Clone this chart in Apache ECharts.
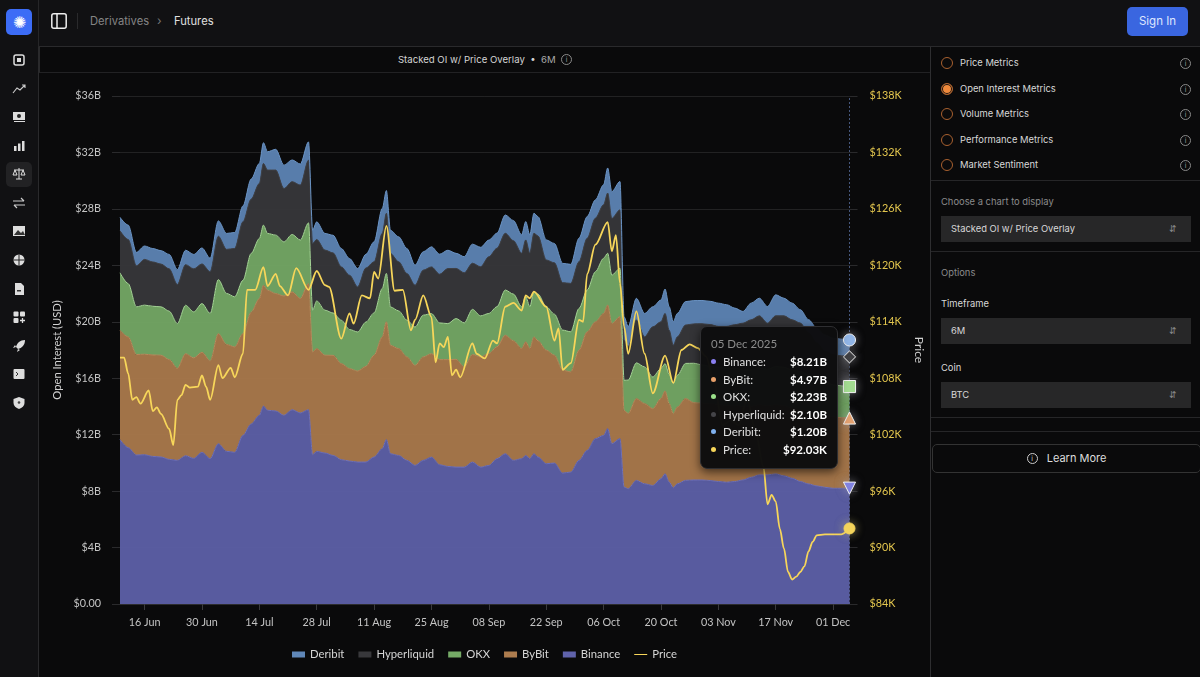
<!DOCTYPE html>
<html>
<head>
<meta charset="utf-8">
<title>Futures</title>
<script src="https://cdn.jsdelivr.net/npm/echarts@6/dist/echarts.min.js"></script>
<style>
  html, body { margin: 0; padding: 0; background: #0a0a0b; }
  body { width: 1200px; height: 677px; overflow: hidden; position: relative; font-family: Inter, sans-serif; color: #ddd; }
  .abs { position: absolute; white-space: nowrap; }
  #side { left: 0; top: 0; width: 38px; height: 677px; background: #111113; border-right: 1px solid #262628; }
  #top { left: 39px; top: 0; width: 1161px; height: 46px; background: #111113; border-bottom: 1px solid #2a2a2c; }
  #chartHead { left: 39px; top: 47px; width: 891px; height: 26px; border-bottom: 1px solid #222224; border-left: 1px solid #2a2a2c; box-sizing: border-box;
    text-align: center; font-size: 9.6px; line-height: 26px; color: #d5d5d5; }
  #main { left: 39px; top: 74px; width: 891px; height: 603px; }
  #leftEdge { left: 38px; top: 47px; width: 1px; height: 630px; background: #2a2a2c; }
  #panelEdge { left: 930px; top: 47px; width: 1px; height: 630px; background: #2e2e30; }
  .radio { width: 10px; height: 10px; border: 1.4px solid #a8602f; border-radius: 50%; left: 941px; }
  .radio.on { background: #f08a3c; box-shadow: inset 0 0 0 1px #111; }
  .lbl { font-size: 9.4px; color: #d8d8d8; left: 960px; }
  .gray { font-size: 9.4px; color: #8b8b8b; left: 941px; }
  .sel { left: 941px; width: 250px; height: 26px; background: #272728; font-size: 9.4px; line-height: 25px; color: #d8d8d8; text-indent: 10px; }
  .sel span { position: absolute; right: 14px; top: 0; color: #888; font-size: 9px; text-indent: 0; }
  .rule { left: 931px; width: 269px; height: 1px; background: #262628; }
  .info { width: 9px; height: 9px; border: 1px solid #8a8a8a; border-radius: 50%; font-size: 7px; line-height: 9px; text-align: center; color: #9a9a9a; }
</style>
</head>
<body>
<div class="abs" id="side"></div>
<div class="abs" style="left:6px;top:9px;width:26px;height:26px;border-radius:5px;background:#3c6cf6;color:#fff;font-size:16px;line-height:27px;text-align:center;">&#10042;</div>
<div class="abs" style="left:6px;top:162px;width:26px;height:25px;border-radius:5px;background:#222224;"></div>
<div id="sideIcons"></div>

<div class="abs" id="top"></div>
<svg class="abs" style="left:51px;top:13px" width="16" height="16"><rect x="0.8" y="0.8" width="14.4" height="14.4" rx="2" fill="none" stroke="#eee" stroke-width="1.5"/><line x1="6" y1="1" x2="6" y2="15" stroke="#eee" stroke-width="1.5"/></svg>
<div class="abs" style="left:77px;top:13px;width:1px;height:16px;background:#2a2a2c"></div>
<div class="abs" style="left:90px;top:14px;font-size:11.2px;color:#858585">Derivatives</div>
<div class="abs" style="left:157px;top:13px;font-size:12px;color:#777">&#8250;</div>
<div class="abs" style="left:174px;top:14px;font-size:11.2px;color:#e0e0e0">Futures</div>
<div class="abs" style="left:1127px;top:7px;width:61px;height:29px;border-radius:5px;background:#3a66e0;color:#dfe7ff;font-size:11.5px;line-height:28px;text-align:center">Sign In</div>

<div class="abs" id="leftEdge"></div>
<div class="abs" id="chartHead">Stacked OI w/ Price Overlay &nbsp;&bull;&nbsp; <span style="color:#aaa">6M</span> &nbsp;<span class="info" style="display:inline-block;vertical-align:1px">i</span></div>
<div class="abs" id="main"></div>
<div class="abs" id="panelEdge"></div>

<div id="metrics"></div>
<div class="abs rule" style="top:180px"></div>
<div class="abs gray" style="top:196px">Choose a chart to display</div>
<div class="abs sel" style="top:216px">Stacked OI w/ Price Overlay<span>&#8693;</span></div>
<div class="abs rule" style="top:251px"></div>
<div class="abs gray" style="top:267px">Options</div>
<div class="abs lbl" style="left:941px;top:298px">Timeframe</div>
<div class="abs sel" style="top:318px">6M<span>&#8693;</span></div>
<div class="abs lbl" style="left:941px;top:362px">Coin</div>
<div class="abs sel" style="top:382px">BTC<span>&#8693;</span></div>
<div class="abs rule" style="top:417px"></div>
<div class="abs rule" style="top:431px"></div>
<div class="abs" style="left:932px;top:444px;width:267px;height:27px;border:1px solid #333;border-radius:5px;font-size:11px;line-height:27px;text-align:center;color:#ddd"><span class="info" style="display:inline-block;vertical-align:1px;margin-right:6px;border-color:#ccc;color:#ccc">i</span> Learn More</div>

<script>
// days since 10 Jun 2025 for the open interest series (mostly every 2 days, extra points at the sharp moves)
var oiDays = [0,2,4,6,8,10,12,14,16,18,20,22,24,26,28,30,32,34,35,36,38,40,42,44,46,47,48,50,52,54,56,58,60,62,64,65,66,
  68,70,72,74,76,78,80,82,84,86,88,90,92,94,96,98,99,100,101,102,104,106,108,110,112,114,116,118,119,120,122,123,124,
  126,128,130,132,133,134,135,136,138,
  140,142,144,146,148,150,152,154,156,158,160,162,164,166,168,170,172,174,176,178];

var binance = [11.65,11.08,10.56,10.58,10.46,10.42,10.25,10.18,10.51,10.32,10.75,10.30,11.36,10.82,10.75,11.95,12.76,13.37,14.03,13.73,13.68,13.37,13.77,13.54,13.77,10.58,10.82,10.70,10.53,10.23,10.13,10.06,10.06,10.42,11.01,11.65,10.65,
  10.53,10.18,9.82,10.18,10.41,9.87,9.75,9.70,9.70,10.06,9.70,9.82,10.30,10.65,10.18,10.30,10.53,10.30,10.65,10.41,9.94,9.99,9.28,9.35,10.18,10.89,11.72,11.95,12.43,11.36,11.72,8.28,8.17,
  8.76,8.52,8.40,8.88,9.23,8.64,8.24,8.52,8.76,
  8.79,8.79,8.75,8.68,8.63,8.68,8.79,8.98,9.15,9.15,9.22,9.08,8.91,8.68,8.51,8.37,8.27,8.20,8.20,8.21];
var bybit = [7.75,7.85,7.12,7.12,7.19,7.21,7.07,6.52,7.23,7.12,7.09,6.93,7.80,7.57,7.47,7.21,7.92,8.27,8.56,8.51,8.32,8.46,8.35,8.11,8.94,7.28,7.28,6.93,7.09,6.81,6.55,6.45,6.78,7.21,7.92,8.35,7.68,
  7.57,7.33,7.09,7.33,7.33,7.45,7.57,7.64,7.10,7.62,7.81,7.93,7.93,8.40,8.47,7.81,8.05,7.81,8.28,8.24,8.05,7.64,7.29,7.10,7.81,8.40,8.28,8.64,8.76,8.52,8.64,5.44,5.33,
  5.80,5.68,5.44,5.68,5.87,5.56,5.25,5.44,5.80,
  5.48,5.44,5.44,5.44,5.41,5.37,5.20,5.01,4.96,4.89,4.89,4.96,4.96,5.08,5.13,5.11,5.06,5.04,5.01,4.97];
var okx = [4.07,3.78,3.38,3.48,3.45,3.43,3.43,3.17,3.43,3.26,3.45,3.36,3.83,3.62,3.55,3.78,4.16,4.26,4.26,4.02,4.14,3.83,4.07,4.14,4.30,2.96,3.38,3.19,3.00,3.07,2.77,2.77,3.14,3.00,3.43,3.43,2.72,
  2.67,2.60,2.72,2.96,2.84,2.60,2.55,2.89,3.12,3.20,2.91,2.84,2.84,3.20,3.31,2.96,3.20,2.96,3.20,3.31,3.08,2.91,2.84,2.84,2.96,2.96,3.55,3.91,3.67,3.43,3.43,2.13,2.37,
  2.53,2.60,2.25,2.13,1.94,2.08,2.13,2.25,2.49,
  2.79,2.72,2.65,2.67,2.67,2.67,2.60,2.60,2.60,2.60,2.72,2.74,2.72,2.72,2.60,2.53,2.43,2.29,2.25,2.23];
var hyperliquid = [2.98,3.12,2.91,3.24,3.14,3.03,3.00,2.77,2.88,3.05,2.81,2.96,3.07,3.12,3.43,4.14,3.85,3.90,4.37,4.49,4.61,3.78,3.74,3.90,4.44,4.73,4.35,4.26,4.26,3.78,3.85,3.19,3.83,3.62,3.90,4.26,3.78,
  3.48,3.31,2.96,3.19,3.31,3.45,3.90,3.55,3.55,3.27,3.48,4.02,4.14,4.02,3.79,3.79,4.02,3.79,4.14,4.12,3.31,3.64,3.36,3.43,3.31,3.67,3.79,3.79,4.26,4.02,4.14,2.84,2.37,
  3.03,2.13,3.55,3.31,3.55,3.12,2.72,2.72,2.72,
  2.79,2.91,2.96,2.88,2.96,3.07,3.31,3.55,3.71,3.26,3.59,3.64,3.55,3.43,2.96,2.48,2.13,2.13,2.13,2.10];
var deribit = [0.95,1.02,0.95,0.95,0.95,0.95,1.02,1.06,1.02,1.02,1.13,0.95,1.09,1.13,1.13,1.13,1.42,1.42,1.47,1.30,1.47,1.65,1.54,1.49,1.30,0.95,1.25,1.18,1.25,1.30,1.18,1.30,0.97,1.42,1.77,1.61,1.65,
  1.77,1.77,1.42,1.30,1.42,1.42,1.30,1.07,1.14,1.35,1.38,1.18,1.07,1.30,1.42,1.30,1.30,1.30,1.42,1.37,1.42,1.37,1.37,1.35,1.66,1.54,1.30,1.42,1.78,1.89,2.01,1.66,1.42,
  1.54,1.66,1.42,1.54,1.73,1.66,1.66,1.66,1.66,
  1.65,1.65,1.65,1.65,1.54,1.18,0.83,1.18,1.25,1.18,1.49,1.25,1.18,0.95,0.95,1.06,1.18,1.18,1.18,1.20];

// price is read at its turning points, so it keeps its own day list (in $K)
var priceDays = [0,1,2,3,4,5,7,8,9,10,12,13,14,15,16,17,19,20,21,22,24,25,27,28,30,31,33,35,36,38,39,41,43,46,48,50,51,54,56,57,59,61,62,63,65,67,
  69,71,72,74,76,77,78,79,80,81,82,83,86,87,89,91,92,94,96,98,99,100,101,104,106,107,108,110,112,113,114,116,119,120,121,122,123,124,126,128,130,133,135,
  137,139,141,143,145,147,149,151,153,155,157,158,159,160,161,162,163,164,165,166,167,168,169,170,172,176,178];
var price = [110.2,110.2,108.5,105.7,106.0,105.3,106.7,104.5,104.9,104.2,102.6,100.9,105.7,106.2,107.3,107.0,107.1,108.3,107.1,105.7,109.4,108.0,109.1,108.1,110.6,117.4,117.4,119.8,117.8,119.1,117.8,116.8,119.7,117.4,119.4,117.9,117.7,112.2,114.9,113.8,116.8,116.5,119.3,118.6,124.2,117.3,
  117.4,113.1,114.2,116.8,114.5,109.7,111.7,111.3,112.4,108.3,108.9,108.1,111.7,110.6,110.1,112.0,111.7,115.6,116.0,115.2,116.8,116.5,117.2,115.6,112.0,113.3,108.9,109.6,114.2,114.0,119.1,122.2,124.6,121.5,123.2,118.1,113.5,110.6,115.1,110.6,106.4,110.4,107.5,
  111.0,111.6,111.2,110.3,107.5,103.0,103.5,103.0,105.8,102.5,98.6,94.6,95.6,94.9,92.0,89.9,87.4,86.6,86.9,87.4,88.0,89.6,90.6,91.3,91.4,91.4,92.03];

var tickDays = [6,20,34,48,62,76,90,104,118,132,146,160,174];
var tickLabels = ["16 Jun","30 Jun","14 Jul","28 Jul","11 Aug","25 Aug","08 Sep","22 Sep","06 Oct","20 Oct","03 Nov","17 Nov","01 Dec"];
var lastDay = 178;

var metricNames = ["Price Metrics","Open Interest Metrics","Volume Metrics","Performance Metrics","Market Sentiment"];
var metricTops = [57,83,108,134,159];

function dayTime(d) { return Date.UTC(2025, 5, 10) + d * 86400000; }
function pairs(days, vals) { return days.map(function (d, i) { return [dayTime(d), vals[i]]; }); }

// right panel radios
var html = "";
metricNames.forEach(function (name, i) {
  html += '<div class="abs radio' + (i === 1 ? ' on' : '') + '" style="top:' + metricTops[i] + 'px"></div>' +
    '<div class="abs lbl" style="top:' + (metricTops[i] - 0.5) + 'px">' + name + '</div>' +
    '<div class="abs info" style="left:1180px;top:' + (metricTops[i] + 0.5) + 'px">i</div>';
});
document.getElementById("metrics").innerHTML = html;

// sidebar icons, just rough glyph shapes
var sideTops = [60,89,117,146,174,203,231,260,289,317,346,374,403];
var sideShapes = [
  '<rect x="2" y="2" width="10" height="10" rx="2" fill="none" stroke="#ddd" stroke-width="1.5"/><rect x="5" y="5" width="4" height="4" fill="#ddd"/>',
  '<path d="M1 11 L5 6 L8 8 L13 3 M10 3 H13 V6" fill="none" stroke="#ccc" stroke-width="1.1"/>',
  '<rect x="1" y="2" width="12" height="8" fill="#ddd"/><circle cx="7" cy="6" r="2" fill="#222"/><rect x="2" y="11" width="11" height="1" fill="#ddd"/>',
  '<rect x="2" y="7" width="2.5" height="5" fill="#ddd"/><rect x="6" y="4.5" width="2.5" height="7.5" fill="#ddd"/><rect x="10" y="2" width="2.5" height="10" fill="#ddd"/>',
  '<path d="M7 1 V12 M2 3 H12 M4 12 H10 M3 3 L1 8 H5 Z M11 3 L9 8 H13 Z" fill="none" stroke="#ddd" stroke-width="1"/>',
  '<path d="M1 5 H12 M9 2 L12 5 M13 9 H2 M5 12 L2 9" fill="none" stroke="#ccc" stroke-width="1.2"/>',
  '<rect x="1" y="2" width="12" height="10" fill="#ddd"/><path d="M2 11 L6 6 L9 9 L11 7 L13 11 Z" fill="#333"/>',
  '<circle cx="7" cy="7" r="5.5" fill="#ddd"/><path d="M1.5 7 H12.5 M7 1.5 V12.5" stroke="#222" stroke-width="1"/>',
  '<path d="M3 1 H9 L12 4 V13 H3 Z" fill="#ddd"/><rect x="5" y="8" width="4" height="1.5" fill="#333"/>',
  '<rect x="1.5" y="1.5" width="5" height="5" rx="1" fill="#ddd"/><rect x="8" y="1.5" width="5" height="5" rx="1" fill="#ddd"/><rect x="1.5" y="8" width="5" height="5" rx="1" fill="#ddd"/><path d="M10.5 8 V13 M8 10.5 H13" stroke="#ddd" stroke-width="1.3"/>',
  '<path d="M13 1 C8 1 5 4 4 8 L6 10 C10 9 13 6 13 1 Z M4 8 L1 9 L3 6 Z M6 10 L5 13 L8 11 Z" fill="#ddd"/>',
  '<rect x="1.5" y="2" width="11" height="10" rx="1" fill="#ddd"/><path d="M4 5 L6 7 L4 9" fill="none" stroke="#333"/>',
  '<path d="M7 1 L12.5 3 V7 C12.5 10 10 12 7 13 C4 12 1.5 10 1.5 7 V3 Z" fill="#ddd"/><circle cx="7" cy="6.5" r="1.3" fill="#444"/>'
];
document.getElementById("sideIcons").innerHTML = sideShapes.map(function (s, i) {
  return '<svg class="abs" style="left:12px;top:' + (sideTops[i] - 7) + 'px" width="14" height="14">' + s + '</svg>';
}).join("");

var chartFont = "Lato, sans-serif";
var myChart = echarts.init(document.getElementById("main"));

function areaSeries(name, vals, fill, edge, marker, symbol, rotate, size) {
  return {
    name: name,
    type: "line",
    stack: "oi",
    smooth: 0.3,
    smoothMonotone: "x",
    data: pairs(oiDays, vals),
    showAllSymbol: true,
    symbol: function (v, p) { return p.dataIndex === oiDays.length - 1 ? symbol : "none"; },
    symbolSize: size,
    symbolRotate: rotate,
    itemStyle: { color: marker, borderColor: "#f2f2f2", borderWidth: 1, shadowColor: "rgba(170,170,180,0.6)", shadowBlur: 10 },
    lineStyle: { color: edge, width: 1 },
    areaStyle: { color: fill, opacity: 0.93 },
    emphasis: { disabled: true },
    z: 2
  };
}

var option = {
  animation: false,
  backgroundColor: "transparent",
  textStyle: { fontFamily: chartFont },
  grid: { left: 81, right: 80.5, top: 22, bottom: 73, outerBoundsMode: "none" },
  legend: {
    bottom: 12,
    left: "center",
    itemWidth: 13,
    itemHeight: 6,
    itemGap: 14,
    itemStyle: { borderWidth: 0, shadowBlur: 0 },
    textStyle: { color: "#d5d5d5", fontSize: 11.3, fontFamily: chartFont },
    data: [
      { name: "Deribit", icon: "rect", itemStyle: { color: "#5f87b8" } },
      { name: "Hyperliquid", icon: "rect", itemStyle: { color: "#38383b" } },
      { name: "OKX", icon: "rect", itemStyle: { color: "#76ab67" } },
      { name: "ByBit", icon: "rect", itemStyle: { color: "#ad7c4e" } },
      { name: "Binance", icon: "rect", itemStyle: { color: "#5f62ab" } },
      { name: "Price", icon: "path://M0 0L0 0M0 2.2H20V3.8H0ZM20 6L20 6", itemStyle: { color: "#f7d65a" } }
    ]
  },
  tooltip: {
    trigger: "axis",
    alwaysShowContent: true,
    position: [661, 252],
    padding: [10, 10],
    backgroundColor: "rgba(13,13,14,0.98)",
    borderColor: "#2e2e31",
    borderWidth: 1,
    extraCssText: "border-radius:7px;box-shadow:0 3px 10px rgba(0,0,0,.6);width:116px;",
    axisPointer: { type: "line", z: 1, lineStyle: { color: "#46577c", type: [2, 2], width: 1 }, label: { show: false } },
    formatter: function () {
      var n = oiDays.length - 1;
      var rows = [
        ["#8a7ff0", "Binance", "$" + binance[n].toFixed(2) + "B"],
        ["#e8a06a", "ByBit", "$" + bybit[n].toFixed(2) + "B"],
        ["#9be08a", "OKX", "$" + okx[n].toFixed(2) + "B"],
        ["#444448", "Hyperliquid", "$" + hyperliquid[n].toFixed(2) + "B"],
        ["#7fb0ee", "Deribit", "$" + deribit[n].toFixed(2) + "B"],
        ["#f7d65a", "Price", "$" + price[price.length - 1].toFixed(2) + "K"]
      ];
      var s = '<div style="font:11.5px ' + chartFont + ';color:#8c8c8c;margin-bottom:3px">05 Dec 2025</div>';
      rows.forEach(function (r) {
        s += '<div style="display:flex;align-items:center;height:17.5px;font:11.5px ' + chartFont + ';color:#e0e0e0">' +
          '<span style="width:5px;height:5px;border-radius:50%;background:' + r[0] + ';margin-right:7px"></span>' +
          '<span style="flex:1">' + r[1] + ':</span><b style="color:#fff;font-weight:700">' + r[2] + '</b></div>';
      });
      return s;
    }
  },
  // the series sit on a time axis so the stack works; the date ticks come from a second axis counted in days
  xAxis: [
    {
      type: "time",
      min: dayTime(0),
      max: dayTime(lastDay),
      axisLine: { lineStyle: { color: "#2c2c2e" } },
      axisTick: { show: false },
      axisLabel: { show: false },
      splitLine: { show: false }
    },
    {
      type: "value",
      position: "bottom",
      min: 0,
      max: lastDay,
      axisPointer: { show: false, triggerTooltip: false },
      axisLine: { show: false },
      axisTick: { show: true, length: 6, lineStyle: { color: "#3a3a3c" }, customValues: tickDays },
      splitLine: { show: false },
      axisLabel: {
        color: "#c4c4c4",
        fontSize: 10.8,
        margin: 13,
        customValues: tickDays,
        formatter: function (v) { return tickLabels[tickDays.indexOf(v)] || ""; }
      }
    }
  ],
  yAxis: [
    {
      type: "value",
      min: 0,
      max: 36,
      interval: 4,
      name: "Open Interest (USD)",
      nameLocation: "middle",
      nameGap: 53,
      nameTextStyle: { color: "#d0d0d0", fontSize: 11.2, fontFamily: chartFont },
      axisLine: { show: false },
      axisTick: { show: true, length: 8, lineStyle: { color: "#2a2a2c" } },
      axisLabel: { color: "#c4c4c4", fontSize: 10.8, margin: 19, formatter: function (v) { return v === 0 ? "$0.00" : "$" + v + "B"; } },
      splitLine: { lineStyle: { color: "rgba(255,255,255,0.1)", width: 1 } }
    },
    {
      type: "value",
      min: 84,
      max: 138,
      interval: 6,
      position: "right",
      name: "Price",
      nameLocation: "middle",
      nameRotate: -90,
      nameGap: 31,
      nameTextStyle: { color: "#d0d0d0", fontSize: 12, fontFamily: chartFont },
      axisLine: { show: false },
      axisTick: { show: true, length: 8, lineStyle: { color: "#2a2a2c" } },
      axisLabel: { color: "#e3c64e", fontSize: 10.8, margin: 20, formatter: function (v) { return "$" + v + "K"; } },
      splitLine: { show: false }
    }
  ],
  series: [
    areaSeries("Binance", binance, "#5f62ab", "#6e71bb", "#7d7fe6", "triangle", 180, 11),
    areaSeries("ByBit", bybit, "#ad7c4e", "#b98a5c", "#e8a06a", "triangle", 0, 11),
    areaSeries("OKX", okx, "#76ab67", "#a5d596", "#a3e08f", "rect", 0, 11),
    areaSeries("Hyperliquid", hyperliquid, "#38383b", "#404044", "#3a3a3d", "diamond", 0, 11),
    areaSeries("Deribit", deribit, "#5f87b8", "#6a93c4", "#8fb6ea", "circle", 0, 11),
    {
      name: "Price",
      type: "line",
      yAxisIndex: 1,
      smooth: 0.3,
      smoothMonotone: "x",
      data: pairs(priceDays, price),
      showAllSymbol: true,
      symbol: function (v, p) { return p.dataIndex === priceDays.length - 1 ? "circle" : "none"; },
      symbolSize: 10,
      itemStyle: { color: "#f7d65a", borderColor: "#f7d65a", shadowColor: "rgba(200,190,120,0.6)", shadowBlur: 10 },
      lineStyle: { color: "#f7d65a", width: 1.8 },
      emphasis: { disabled: true },
      z: 5
    }
  ]
};

myChart.setOption(option);
myChart.dispatchAction({ type: "showTip", seriesIndex: 5, dataIndex: priceDays.length - 1 });
</script>
</body>
</html>
